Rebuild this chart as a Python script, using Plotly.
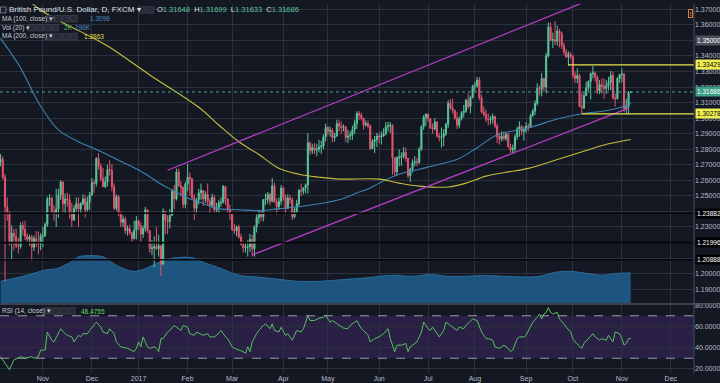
import pandas as pd
import plotly.graph_objects as go

# ---------------- DATA (GBP/USD daily, FXCM), one entry per trading day from 2016-10-05 ----------------
opens = [
    # Oct 2016
    1.2720, 1.2735, 1.2620, 1.2430, 1.2395, 1.2205, 1.2260, 1.2240, 1.2180, 1.2175, 1.2310, 1.2285, 1.2240, 1.2220, 1.2235, 1.2170, 1.2225, 1.2200, 1.2190,
    # Nov 2016
    1.2240, 1.2245, 1.2315, 1.2480, 1.2485, 1.2400, 1.2385, 1.2415, 1.2505, 1.2590, 1.2450, 1.2480, 1.2475, 1.2385, 1.2345, 1.2420, 1.2450, 1.2415, 1.2450, 1.2480, 1.2410, 1.2460,
    # Dec 2016
    1.2505, 1.2585, 1.2580, 1.2740, 1.2690, 1.2610, 1.2560, 1.2590, 1.2670, 1.2665, 1.2560, 1.2420, 1.2495, 1.2385, 1.2330, 1.2350, 1.2275, 1.2290, 1.2260, 1.2225, 1.2280,
    # Jan 2017
    1.2340, 1.2305, 1.2255, 1.2290, 1.2410, 1.2275, 1.2160, 1.2165, 1.2175, 1.2160, 1.2180, 1.2060, 1.2400, 1.2345, 1.2335, 1.2375, 1.2530, 1.2480, 1.2655, 1.2565, 1.2555, 1.2445,
    # Feb 2017
    1.2575, 1.2620, 1.2610, 1.2490, 1.2420, 1.2475, 1.2520, 1.2535, 1.2480, 1.2510, 1.2465, 1.2440, 1.2490, 1.2410, 1.2425, 1.2455, 1.2460, 1.2560, 1.2480, 1.2410,
    # Mar 2017
    1.2385, 1.2285, 1.2275, 1.2300, 1.2235, 1.2190, 1.2165, 1.2170, 1.2175, 1.2220, 1.2160, 1.2300, 1.2360, 1.2395, 1.2365, 1.2475, 1.2480, 1.2510, 1.2465, 1.2565, 1.2460, 1.2430, 1.2465,
    # Apr 2017
    1.2550, 1.2490, 1.2420, 1.2485, 1.2475, 1.2365, 1.2400, 1.2450, 1.2535, 1.2530, 1.2550, 1.2570, 1.2840, 1.2790, 1.2810, 1.2795, 1.2800, 1.2815, 1.2820, 1.2880,
    # May 2017
    1.2940, 1.2915, 1.2920, 1.2875, 1.2885, 1.2965, 1.2950, 1.2940, 1.2945, 1.2875, 1.2885, 1.2890, 1.2925, 1.2965, 1.3030, 1.3020, 1.3000, 1.2955, 1.2965, 1.2950, 1.2805, 1.2850, 1.2860,
    # Jun 2017
    1.2885, 1.2880, 1.2885, 1.2900, 1.2945, 1.2950, 1.2955, 1.2745, 1.2655, 1.2745, 1.2750, 1.2755, 1.2780, 1.2740, 1.2630, 1.2670, 1.2715, 1.2720, 1.2715, 1.2800, 1.2945, 1.3005,
    # Jul 2017
    1.3025, 1.2995, 1.2935, 1.2930, 1.2975, 1.2885, 1.2875, 1.2880, 1.2900, 1.2960, 1.3095, 1.3065, 1.3050, 1.3000, 1.2955, 1.2995, 1.3035, 1.3045, 1.3115, 1.3075, 1.3135,
    # Aug 2017
    1.3205, 1.3210, 1.3245, 1.3130, 1.3040, 1.3025, 1.2995, 1.2990, 1.2995, 1.3010, 1.2950, 1.2880, 1.2865, 1.2885, 1.2870, 1.2895, 1.2815, 1.2795, 1.2805, 1.2880, 1.2930, 1.2945, 1.2915,
    # Sep 2017
    1.2925, 1.2950, 1.2945, 1.3015, 1.3045, 1.3095, 1.3190, 1.3185, 1.3255, 1.3200, 1.3400, 1.3585, 1.3500, 1.3505, 1.3495, 1.3560, 1.3545, 1.3465, 1.3425, 1.3395, 1.3410,
    # Oct 2017
    1.3395, 1.3275, 1.3255, 1.3275, 1.3075, 1.3065, 1.3145, 1.3195, 1.3235, 1.3285, 1.3290, 1.3265, 1.3175, 1.3215, 1.3205, 1.3190, 1.3210, 1.3230, 1.3275, 1.3130, 1.3125, 1.3255,
    # Nov 2017
    1.3280, 1.3285, 1.3060, 1.3075, 1.31648,
]
highs = [
    1.2770, 1.2755, 1.2640, 1.2490, 1.2400, 1.2310, 1.2290, 1.2290, 1.2230, 1.2330, 1.2335, 1.2340, 1.2260, 1.2250, 1.2250, 1.2245, 1.2275, 1.2270, 1.2260,
    1.2300, 1.2330, 1.2495, 1.2510, 1.2495, 1.2440, 1.2545, 1.2545, 1.2600, 1.2590, 1.2515, 1.2520, 1.2510, 1.2455, 1.2440, 1.2490, 1.2490, 1.2460, 1.2510, 1.2505, 1.2495, 1.2525,
    1.2615, 1.2605, 1.2750, 1.2775, 1.2710, 1.2680, 1.2625, 1.2700, 1.2730, 1.2705, 1.2580, 1.2510, 1.2505, 1.2400, 1.2375, 1.2365, 1.2310, 1.2315, 1.2270, 1.2340, 1.2370,
    1.2345, 1.2330, 1.2310, 1.2430, 1.2415, 1.2280, 1.2215, 1.2240, 1.2300, 1.2250, 1.2180, 1.2420, 1.2405, 1.2375, 1.2415, 1.2545, 1.2570, 1.2675, 1.2675, 1.2595, 1.2560, 1.2590,
    1.2705, 1.2650, 1.2615, 1.2510, 1.2485, 1.2545, 1.2580, 1.2535, 1.2530, 1.2580, 1.2485, 1.2515, 1.2505, 1.2455, 1.2475, 1.2490, 1.2570, 1.2565, 1.2485, 1.2445,
    1.2395, 1.2320, 1.2310, 1.2315, 1.2255, 1.2210, 1.2200, 1.2215, 1.2255, 1.2250, 1.2310, 1.2380, 1.2405, 1.2405, 1.2480, 1.2515, 1.2525, 1.2520, 1.2615, 1.2585, 1.2485, 1.2490, 1.2570,
    1.2560, 1.2510, 1.2510, 1.2505, 1.2490, 1.2425, 1.2475, 1.2545, 1.2580, 1.2555, 1.2580, 1.2905, 1.2850, 1.2835, 1.2840, 1.2835, 1.2860, 1.2855, 1.2895, 1.2965,
    1.2950, 1.2945, 1.2935, 1.2905, 1.2990, 1.2990, 1.2980, 1.2960, 1.2950, 1.2925, 1.2915, 1.2950, 1.2990, 1.3045, 1.3045, 1.3035, 1.3000, 1.2985, 1.2985, 1.2960, 1.2865, 1.2885, 1.2905,
    1.2905, 1.2915, 1.2935, 1.2975, 1.2975, 1.2975, 1.2960, 1.2750, 1.2755, 1.2800, 1.2780, 1.2815, 1.2810, 1.2745, 1.2680, 1.2735, 1.2755, 1.2745, 1.2815, 1.2955, 1.3020, 1.3030,
    1.3030, 1.3000, 1.2965, 1.3000, 1.2980, 1.2905, 1.2940, 1.2930, 1.2970, 1.3115, 1.3125, 1.3125, 1.3055, 1.3040, 1.3010, 1.3045, 1.3085, 1.3125, 1.3160, 1.3145, 1.3215,
    1.3235, 1.3265, 1.3265, 1.3150, 1.3075, 1.3055, 1.3030, 1.3015, 1.3030, 1.3015, 1.2965, 1.2905, 1.2915, 1.2915, 1.2905, 1.2905, 1.2835, 1.2830, 1.2895, 1.2945, 1.2980, 1.2955, 1.2945,
    1.2975, 1.2965, 1.3030, 1.3060, 1.3115, 1.3225, 1.3210, 1.3290, 1.3260, 1.3420, 1.3615, 1.3615, 1.3550, 1.3625, 1.3595, 1.3575, 1.3555, 1.3485, 1.3445, 1.3430, 1.3425,
    1.3410, 1.3300, 1.3320, 1.3285, 1.3165, 1.3165, 1.3235, 1.3245, 1.3295, 1.3335, 1.3300, 1.3275, 1.3245, 1.3255, 1.3255, 1.3245, 1.3265, 1.3305, 1.3300, 1.3160, 1.3265, 1.3285,
    1.3320, 1.3285, 1.3125, 1.3175, 1.31699,
]
lows = [
    1.2690, 1.2605, 1.1950, 1.2340, 1.2180, 1.2090, 1.2150, 1.2165, 1.2130, 1.2160, 1.2245, 1.2215, 1.2200, 1.2180, 1.2080, 1.2145, 1.2170, 1.2125, 1.2150,
    1.2170, 1.2235, 1.2300, 1.2435, 1.2380, 1.2340, 1.2300, 1.2360, 1.2475, 1.2395, 1.2385, 1.2430, 1.2355, 1.2300, 1.2340, 1.2400, 1.2300, 1.2390, 1.2440, 1.2360, 1.2400, 1.2410,
    1.2500, 1.2520, 1.2560, 1.2670, 1.2595, 1.2555, 1.2550, 1.2560, 1.2630, 1.2530, 1.2410, 1.2405, 1.2370, 1.2300, 1.2300, 1.2255, 1.2245, 1.2250, 1.2200, 1.2220, 1.2220,
    1.2280, 1.2200, 1.2230, 1.2270, 1.2260, 1.2135, 1.2120, 1.2040, 1.2150, 1.2110, 1.1985, 1.2060, 1.2255, 1.2255, 1.2290, 1.2370, 1.2415, 1.2470, 1.2560, 1.2495, 1.2420, 1.2420,
    1.2530, 1.2500, 1.2480, 1.2345, 1.2380, 1.2445, 1.2475, 1.2435, 1.2455, 1.2440, 1.2385, 1.2420, 1.2385, 1.2395, 1.2385, 1.2430, 1.2450, 1.2440, 1.2385, 1.2345,
    1.2275, 1.2255, 1.2240, 1.2225, 1.2180, 1.2135, 1.2135, 1.2110, 1.2140, 1.2110, 1.2110, 1.2265, 1.2320, 1.2340, 1.2335, 1.2440, 1.2450, 1.2440, 1.2460, 1.2455, 1.2380, 1.2410, 1.2440,
    1.2470, 1.2380, 1.2415, 1.2450, 1.2345, 1.2355, 1.2385, 1.2435, 1.2500, 1.2510, 1.2515, 1.2515, 1.2765, 1.2770, 1.2770, 1.2755, 1.2780, 1.2770, 1.2800, 1.2850,
    1.2890, 1.2880, 1.2845, 1.2850, 1.2880, 1.2915, 1.2900, 1.2915, 1.2845, 1.2840, 1.2860, 1.2860, 1.2900, 1.2930, 1.2990, 1.2985, 1.2925, 1.2945, 1.2935, 1.2795, 1.2800, 1.2775, 1.2815,
    1.2840, 1.2830, 1.2880, 1.2890, 1.2915, 1.2905, 1.2635, 1.2630, 1.2630, 1.2690, 1.2695, 1.2740, 1.2720, 1.2615, 1.2590, 1.2650, 1.2690, 1.2690, 1.2705, 1.2790, 1.2925, 1.2950,
    1.2975, 1.2930, 1.2900, 1.2920, 1.2875, 1.2850, 1.2810, 1.2820, 1.2885, 1.2935, 1.3055, 1.3030, 1.2990, 1.2930, 1.2935, 1.2985, 1.3005, 1.3035, 1.3060, 1.3030, 1.3125,
    1.3175, 1.3195, 1.3115, 1.3030, 1.3010, 1.2975, 1.2955, 1.2960, 1.2965, 1.2935, 1.2840, 1.2830, 1.2850, 1.2855, 1.2855, 1.2810, 1.2775, 1.2775, 1.2780, 1.2860, 1.2880, 1.2890, 1.2855,
    1.2905, 1.2915, 1.2940, 1.3010, 1.3020, 1.3080, 1.3145, 1.3140, 1.3170, 1.3160, 1.3390, 1.3495, 1.3450, 1.3470, 1.3465, 1.3455, 1.3445, 1.3405, 1.3385, 1.3335, 1.3380,
    1.3255, 1.3225, 1.3225, 1.3070, 1.3030, 1.3060, 1.3145, 1.3175, 1.3120, 1.3255, 1.3235, 1.3155, 1.3155, 1.3160, 1.3125, 1.3155, 1.3180, 1.3180, 1.3120, 1.3075, 1.3120, 1.3225,
    1.3230, 1.3040, 1.3030, 1.3030, 1.31633,
]
closes = [
    1.2735, 1.2620, 1.2430, 1.2395, 1.2205, 1.2260, 1.2240, 1.2180, 1.2175, 1.2310, 1.2285, 1.2240, 1.2220, 1.2235, 1.2170, 1.2225, 1.2200, 1.2190, 1.2240,
    1.2245, 1.2315, 1.2480, 1.2485, 1.2400, 1.2385, 1.2415, 1.2505, 1.2590, 1.2450, 1.2480, 1.2475, 1.2385, 1.2345, 1.2420, 1.2450, 1.2415, 1.2450, 1.2480, 1.2410, 1.2460, 1.2505,
    1.2585, 1.2580, 1.2740, 1.2690, 1.2610, 1.2560, 1.2590, 1.2670, 1.2665, 1.2560, 1.2420, 1.2495, 1.2385, 1.2330, 1.2350, 1.2275, 1.2290, 1.2260, 1.2225, 1.2280, 1.2340,
    1.2305, 1.2255, 1.2290, 1.2410, 1.2275, 1.2160, 1.2165, 1.2175, 1.2160, 1.2180, 1.2060, 1.2400, 1.2345, 1.2335, 1.2375, 1.2530, 1.2480, 1.2655, 1.2565, 1.2555, 1.2445, 1.2575,
    1.2620, 1.2610, 1.2490, 1.2420, 1.2475, 1.2520, 1.2535, 1.2480, 1.2510, 1.2465, 1.2440, 1.2490, 1.2410, 1.2425, 1.2455, 1.2460, 1.2560, 1.2480, 1.2410, 1.2385,
    1.2285, 1.2275, 1.2300, 1.2235, 1.2190, 1.2165, 1.2170, 1.2175, 1.2220, 1.2160, 1.2300, 1.2360, 1.2395, 1.2365, 1.2475, 1.2480, 1.2510, 1.2465, 1.2565, 1.2460, 1.2430, 1.2465, 1.2550,
    1.2490, 1.2420, 1.2485, 1.2475, 1.2365, 1.2400, 1.2450, 1.2535, 1.2530, 1.2550, 1.2570, 1.2840, 1.2790, 1.2810, 1.2795, 1.2800, 1.2815, 1.2820, 1.2880, 1.2940,
    1.2915, 1.2920, 1.2875, 1.2885, 1.2965, 1.2950, 1.2940, 1.2945, 1.2875, 1.2885, 1.2890, 1.2925, 1.2965, 1.3030, 1.3020, 1.3000, 1.2955, 1.2965, 1.2950, 1.2805, 1.2850, 1.2860, 1.2885,
    1.2880, 1.2885, 1.2900, 1.2945, 1.2950, 1.2955, 1.2745, 1.2655, 1.2745, 1.2750, 1.2755, 1.2780, 1.2740, 1.2630, 1.2670, 1.2715, 1.2720, 1.2715, 1.2800, 1.2945, 1.3005, 1.3025,
    1.2995, 1.2935, 1.2930, 1.2975, 1.2885, 1.2875, 1.2880, 1.2900, 1.2960, 1.3095, 1.3065, 1.3050, 1.3000, 1.2955, 1.2995, 1.3035, 1.3045, 1.3115, 1.3075, 1.3135, 1.3205,
    1.3210, 1.3245, 1.3130, 1.3040, 1.3025, 1.2995, 1.2990, 1.2995, 1.3010, 1.2950, 1.2880, 1.2865, 1.2885, 1.2870, 1.2895, 1.2815, 1.2795, 1.2805, 1.2880, 1.2930, 1.2945, 1.2915, 1.2925,
    1.2950, 1.2945, 1.3015, 1.3045, 1.3095, 1.3190, 1.3185, 1.3255, 1.3200, 1.3400, 1.3585, 1.3500, 1.3505, 1.3495, 1.3560, 1.3545, 1.3465, 1.3425, 1.3395, 1.3410, 1.3395,
    1.3275, 1.3255, 1.3275, 1.3075, 1.3065, 1.3145, 1.3195, 1.3235, 1.3285, 1.3290, 1.3265, 1.3175, 1.3215, 1.3205, 1.3190, 1.3210, 1.3230, 1.3275, 1.3130, 1.3125, 1.3255, 1.3280,
    1.3285, 1.3060, 1.3075, 1.3165, 1.31686,
]

# Moving averages (bar number, value)
ma100_bar = [0, 9, 17, 26, 35, 45, 54, 63, 72, 77, 84, 89, 98, 107, 116, 125, 134, 143, 152, 160,
             165, 170, 179, 188, 197, 206, 214, 223, 237, 250, 260, 273, 280, 283]
ma100_val = [1.3513, 1.3323, 1.3101, 1.2924, 1.2848, 1.2785, 1.2722, 1.2658, 1.2576, 1.2538,
             1.2487, 1.2462, 1.2418, 1.2411, 1.2405, 1.2418, 1.2430, 1.2449, 1.2475, 1.2519,
             1.2544, 1.2582, 1.2639, 1.2671, 1.2703, 1.2741, 1.2810, 1.2892, 1.2937, 1.2994,
             1.3025, 1.3051, 1.3076, 1.3096]
ma200_bar = [0, 18, 35, 42, 49, 67, 89, 98, 107, 116, 125, 134, 143, 152, 170, 179, 188, 201, 209,
             218, 227, 237, 250, 264, 273, 283]
ma200_val = [1.3924, 1.3696, 1.3563, 1.3513, 1.3456, 1.3278, 1.3070, 1.2956, 1.2848, 1.2766,
             1.2677, 1.2639, 1.2620, 1.2608, 1.2608, 1.2582, 1.2563, 1.2557, 1.2582, 1.2627,
             1.2652, 1.2677, 1.2734, 1.2797, 1.2835, 1.2863]

# Volume moving average (20), thousands
volma_bar = [0, 10, 21, 25, 31, 35, 41, 46, 53, 60, 66, 72, 78, 86, 90, 98, 107, 115, 123, 133,
             144, 154, 164, 176, 185, 193, 201, 209, 217, 226, 234, 242, 250, 256, 264, 271, 275, 283]
volma_k = [142, 174, 217, 223, 262, 300, 308, 300, 238, 206, 230, 270, 293, 295, 270, 230, 181, 170,
           158, 142, 142, 153, 164, 181, 174, 185, 174, 174, 179, 174, 170, 174, 202, 206, 191, 181,
           191, 196]

# RSI (14, close)
rsi_bar = [0, 4, 6, 9, 11, 14, 15, 17, 18, 20, 21, 23, 24, 26, 27, 29, 30, 32, 33, 35, 36, 37, 39, 40,
           43, 45, 46, 48, 49, 51, 52, 54, 57, 60, 61, 62, 63, 64, 66, 67, 69, 70, 71, 72, 73, 75, 76,
           78, 79, 81, 82, 84, 85, 87, 88, 90, 91, 93, 94, 96, 97, 99, 101, 102, 104, 105, 107, 109,
           110, 111, 112, 113, 115, 116, 118, 119, 121, 122, 123, 125, 126, 128, 129, 131, 132, 133,
           135, 136, 138, 139, 141, 143, 145, 146, 147, 148, 149, 151, 152, 154, 156, 157, 159, 160,
           162, 163, 165, 166, 168, 170, 172, 174, 175, 177, 178, 180, 182, 183, 184, 186, 187, 189,
           190, 192, 193, 194, 196, 197, 199, 200, 202, 203, 205, 206, 208, 209, 211, 212, 214, 215,
           216, 218, 219, 221, 222, 224, 225, 226, 228, 229, 230, 232, 233, 235, 236, 238, 239, 241,
           242, 243, 244, 245, 246, 247, 248, 250, 251, 253, 254, 256, 257, 258, 260, 261, 262, 264,
           266, 267, 269, 270, 272, 273, 275, 276, 278, 279, 280, 281, 282, 283]
rsi_val = [31.5, 19.2, 28.5, 31.5, 30.0, 31.5, 30.0, 31.5, 37.7, 37.7, 54.7, 47.0, 45.4, 53.1, 57.8,
           53.1, 51.6, 50.1, 45.4, 51.6, 50.1, 53.1, 53.1, 56.2, 64.0, 59.3, 54.7, 53.1, 57.8, 53.1,
           45.4, 40.8, 39.3, 36.2, 39.3, 45.4, 40.8, 50.1, 40.8, 39.3, 40.8, 39.3, 36.2, 48.5, 48.5,
           54.7, 56.2, 60.9, 59.3, 56.2, 60.9, 59.3, 53.1, 51.6, 54.7, 53.1, 51.6, 53.1, 50.1, 50.1,
           51.6, 56.2, 50.1, 48.5, 40.8, 39.3, 37.7, 36.2, 34.6, 40.8, 36.2, 45.4, 53.1, 56.2, 60.9,
           62.4, 57.8, 62.4, 56.2, 54.7, 59.3, 51.6, 53.1, 47.0, 51.6, 56.2, 54.7, 57.8, 70.1, 65.5,
           65.5, 67.7, 68.6, 70.7, 67.0, 64.0, 65.5, 62.4, 60.9, 58.4, 57.8, 60.9, 64.0, 65.5, 57.8,
           56.2, 51.6, 45.4, 48.5, 50.1, 53.1, 57.8, 48.5, 36.2, 42.3, 42.3, 43.9, 36.2, 40.8, 43.9,
           45.4, 54.7, 64.0, 57.8, 56.2, 59.3, 53.1, 50.1, 56.2, 64.0, 60.9, 59.3, 56.2, 59.3, 57.8,
           60.9, 65.5, 67.0, 65.5, 59.3, 54.7, 48.5, 48.5, 47.0, 40.8, 39.3, 40.8, 42.3, 39.3, 36.2,
           37.7, 48.5, 50.1, 50.1, 51.6, 59.3, 64.0, 68.6, 71.7, 67.0, 71.7, 73.2, 77.8, 73.2, 71.7,
           73.2, 67.0, 62.4, 59.3, 54.7, 48.5, 45.4, 40.8, 39.3, 43.9, 48.5, 53.1, 50.1, 47.0, 48.5,
           47.0, 51.6, 45.4, 54.7, 53.1, 48.5, 42.3, 43.9, 48.5, 48.48]

# Drawings
upper_chan_bar = [75, 282]
upper_chan_price = [1.2665, 1.3861]
lower_chan_bar = [113, 282]
lower_chan_price = [1.2120, 1.3065]
yellow_levels = [1.33429, 1.30278]
yellow_start_bar = [255, 261]
black_levels = [1.23882, 1.21996, 1.20888]
last_price = 1.31686
ohlc_last = ["1.31648", "1.31699", "1.31633", "1.31686"]

price_ticks = [1.19, 1.20, 1.21, 1.22, 1.23, 1.24, 1.25, 1.26, 1.27, 1.28, 1.29, 1.30,
               1.31, 1.32, 1.33, 1.34, 1.35, 1.36, 1.37]
price_ticks_hidden = [1.21, 1.22, 1.24, 1.35]   # covered by price tags on the scale
rsi_ticks = [20, 40, 60, 80]
month_starts = ["2016-11-01", "2016-12-01", "2017-01-02", "2017-02-01", "2017-03-01", "2017-04-03",
                "2017-05-01", "2017-06-01", "2017-07-03", "2017-08-01", "2017-09-01", "2017-10-02",
                "2017-11-01", "2017-12-01"]
month_labels = ["Nov", "Dec", "2017", "Feb", "Mar", "Apr", "May", "Jun", "Jul", "Aug", "Sep", "Oct",
                "Nov", "Dec"]

# ---------------- trading calendar -> bar numbers ----------------
cal = pd.bdate_range("2016-10-05", "2017-12-29")
cal = cal[cal != pd.Timestamp("2016-12-26")]
month_pos = [int(cal.get_loc(pd.Timestamp(d))) for d in month_starts]
bars = list(range(len(closes)))

# ---------------- style ----------------
W, H = 720, 383
MR, MB = 23, 8
PW, PH = W - MR, H - MB
XR = [-0.25, 311.4]
BG = "#141823"
GRID = "#2c313e"
TXT = "#b8bcc6"
UP = "#5cc49a"
DN = "#e0566f"
FONT = "Liberation Sans, Arial, sans-serif"


def px(x):
    return x / PW


def py(y):
    return 1 - y / PH


fig = go.Figure()

# volume MA area (base hidden axis)
fig.add_trace(go.Scatter(x=volma_bar, y=volma_k, mode="lines", fill="tozeroy",
                         line=dict(color="#2a6c9c", width=1, shape="spline"),
                         fillcolor="#1d5580", xaxis="x", yaxis="y", hoverinfo="skip",
                         showlegend=False))

# candles
fig.add_trace(go.Candlestick(x=bars, open=opens, high=highs, low=lows, close=closes,
                             increasing=dict(line=dict(color=UP, width=1), fillcolor=UP),
                             decreasing=dict(line=dict(color=DN, width=1), fillcolor=DN),
                             whiskerwidth=0, xaxis="x", yaxis="y3", showlegend=False))

# moving averages
fig.add_trace(go.Scatter(x=ma100_bar, y=ma100_val, mode="lines",
                         line=dict(color="#3e83b0", width=1.1, shape="spline"),
                         xaxis="x", yaxis="y3", showlegend=False))
fig.add_trace(go.Scatter(x=ma200_bar, y=ma200_val, mode="lines",
                         line=dict(color="#c4bd3c", width=1.1, shape="spline"),
                         xaxis="x", yaxis="y3", showlegend=False))

# channel lines
for bx, pv in [(upper_chan_bar, upper_chan_price), (lower_chan_bar, lower_chan_price)]:
    fig.add_trace(go.Scatter(x=bx, y=pv, mode="lines", line=dict(color="#b53dc4", width=1.3),
                             xaxis="x", yaxis="y3", showlegend=False))

# RSI
fig.add_trace(go.Scatter(x=rsi_bar, y=rsi_val, mode="lines",
                         line=dict(color="#55c25f", width=1),
                         xaxis="x2", yaxis="y2", showlegend=False))

shapes = []
# RSI band and bounds
shapes.append(dict(type="rect", xref="x2 domain", yref="y2", x0=0, x1=1, y0=30, y1=70,
                   fillcolor="#2a1f45", line=dict(width=0), layer="below"))
for lv in (70, 30):
    shapes.append(dict(type="line", xref="x2 domain", yref="y2", x0=0, x1=1, y0=lv, y1=lv,
                       line=dict(color="#9a9da6", width=1, dash="dash")))
# horizontal price levels
for lv in black_levels:
    shapes.append(dict(type="line", xref="x domain", yref="y3", x0=0, x1=1, y0=lv, y1=lv,
                       line=dict(color="#04060a", width=1.6)))
for lv, sb in zip(yellow_levels, yellow_start_bar):
    shapes.append(dict(type="line", xref="x", yref="y3", x0=sb, x1=XR[1], y0=lv, y1=lv,
                       line=dict(color="#e4e44c", width=1.2)))
shapes.append(dict(type="line", xref="x domain", yref="y3", x0=0, x1=1, y0=last_price,
                   y1=last_price, line=dict(color="#4c9e92", width=1, dash="dot")))
# pane separator and right border
shapes.append(dict(type="line", xref="paper", yref="paper", x0=0, x1=1 + MR / PW,
                   y0=py(305), y1=py(305), line=dict(color="#4a4f5c", width=1.5)))
shapes.append(dict(type="line", xref="paper", yref="paper", x0=1, x1=1, y0=0, y1=1,
                   line=dict(color="#4a4f5c", width=1)))


def icon_boxes(x0, yc, n=4):
    for i in range(n):
        xa = x0 + i * 8
        shapes.append(dict(type="rect", xref="paper", yref="paper", x0=px(xa), x1=px(xa + 6.5),
                           y0=py(yc + 3.3), y1=py(yc - 3.3), fillcolor="#262b37",
                           line=dict(color="#3c4250", width=0.8)))


icon_boxes(140, 6, 2)
icon_boxes(47, 15)
icon_boxes(28, 24)
icon_boxes(47, 33)
icon_boxes(45, 312)
shapes.append(dict(type="rect", xref="paper", yref="paper", x0=px(0.5), x1=px(6),
                   y0=py(9), y1=py(3), line=dict(color="#8a8e98", width=0.8)))

ann = []


def txt(x, y, s, size=6.5, color="#c8cbd2"):
    ann.append(dict(xref="paper", yref="paper", x=px(x), y=py(y), text=s, showarrow=False,
                    xanchor="left", yanchor="middle", font=dict(size=size, color=color, family=FONT)))


G = "#5cc49a"
txt(7.5, 6, "British Pound/U.S. Dollar, D, FXCM ▾", 8, "#dde0e6")
txt(156, 6, "O<span style='color:%s'>%s</span>  H<span style='color:%s'>%s</span>  "
            "L<span style='color:%s'>%s</span>  C<span style='color:%s'>%s</span>"
    % (G, ohlc_last[0], G, ohlc_last[1], G, ohlc_last[2], G, ohlc_last[3]), 7.5, "#dde0e6")
txt(0, 15, "MA (100, close) ▾")
txt(88, 15, "1.3096", 6.5, "#4a8cc0")
txt(0, 24, "Vol (20) ▾")
txt(62, 24, "2K", 6.5, "#58b85e")
txt(73, 24, "196K", 6.5, "#4a8cc0")
txt(0, 33, "MA (200, close) ▾")
txt(82, 33, "1.2863", 6.5, "#e0dc48")
txt(0, 312, "RSI (14, close) ▾")
txt(79, 312, "48.4755", 6.5, "#5fd860")

# axis price tags
tags = [(1.35, "1.35000", "#4b505c", "#ffffff"),
        (yellow_levels[0], "%.5f" % yellow_levels[0], "#eeee52", "#000000"),
        (last_price, "%.5f" % last_price, "#3b9e86", "#ffffff"),
        (yellow_levels[1], "%.5f" % yellow_levels[1], "#eeee52", "#000000")]
tags += [(lv, "%.5f" % lv, "#000000", "#ffffff") for lv in black_levels]
for lv, s, bg, fc in tags:
    ann.append(dict(xref="paper", yref="y3", x=1 + 1.5 / PW, y=lv, text=s, showarrow=False,
                    xanchor="left", yanchor="middle", bgcolor=bg, borderpad=1,
                    font=dict(size=6.5, color=fc, family=FONT)))
ann.append(dict(xref="paper", yref="paper", x=px(693), y=py(10), text="<b>!</b>",
                showarrow=False, xanchor="center", yanchor="middle", bordercolor="#e07b39",
                borderwidth=1, borderpad=0.5, font=dict(size=6, color="#e07b39", family=FONT)))

axfont = dict(size=7, color=TXT, family=FONT)
price_text = ["" if v in price_ticks_hidden else "%.5f" % v for v in price_ticks]
fig.update_layout(
    width=W, height=H, margin=dict(l=0, r=MR, t=0, b=MB),
    paper_bgcolor=BG, plot_bgcolor=BG, showlegend=False,
    xaxis=dict(domain=[0, 1], range=XR, anchor="y", tickvals=month_pos, showticklabels=False,
               showgrid=True, gridcolor=GRID, gridwidth=1, zeroline=False, ticks="",
               rangeslider=dict(visible=False)),
    xaxis2=dict(domain=[0, 1], range=XR, anchor="y2", matches="x", tickvals=month_pos,
                ticktext=month_labels, showgrid=True, gridcolor=GRID, zeroline=False,
                ticks="", tickfont=axfont),
    yaxis=dict(domain=[py(304), 1], range=[0, 1940], visible=False, anchor="x",
               showgrid=False),
    yaxis3=dict(overlaying="y", side="right", anchor="x", range=[1.18101, 1.37342],
                tickvals=price_ticks, ticktext=price_text,
                showgrid=True, gridcolor=GRID, zeroline=False, ticks="", tickfont=axfont),
    yaxis2=dict(domain=[0, py(306)], anchor="x2", side="right", range=[16.1, 80.05],
                tickvals=rsi_ticks, ticktext=["%.4f" % v for v in rsi_ticks],
                showgrid=True, gridcolor=GRID, zeroline=False, ticks="", tickfont=axfont),
    shapes=shapes, annotations=ann,
)

fig.write_html("out.html", config={"displayModeBar": False},
               post_script="document.body.style.margin='0';document.body.style.background='%s';" % BG)
